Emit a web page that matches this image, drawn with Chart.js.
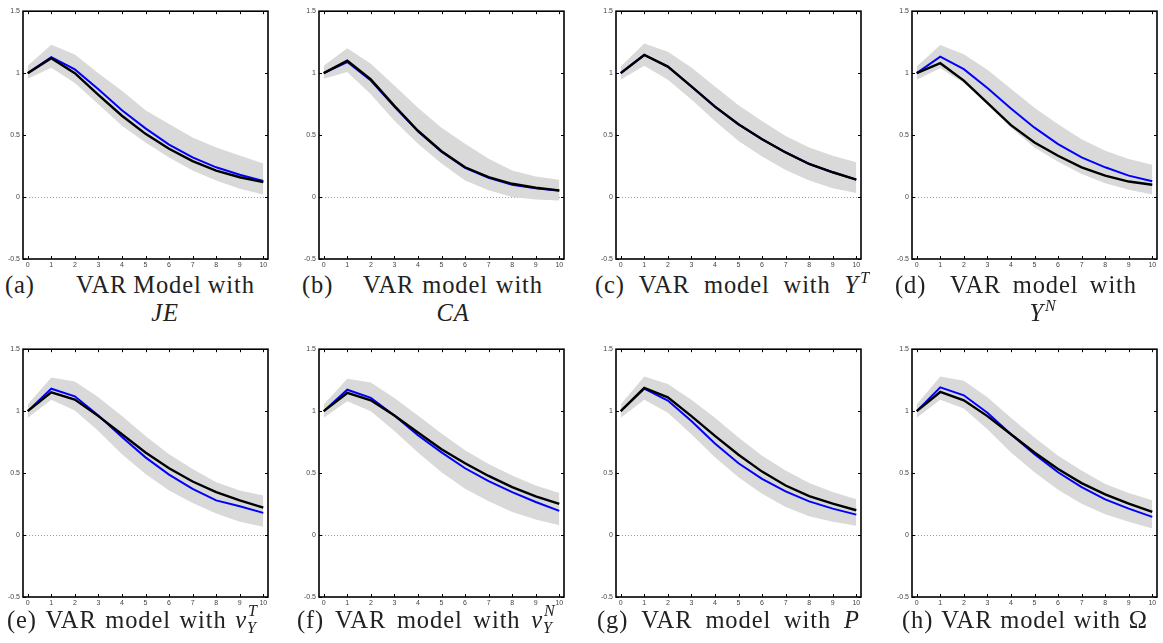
<!DOCTYPE html>
<html><head><meta charset="utf-8">
<script src="https://cdn.jsdelivr.net/npm/chart.js@4"></script>
<style>
body{margin:0;width:1163px;height:643px;background:#fff;position:relative;overflow:hidden;font-family:"Liberation Serif","Times New Roman",serif;}
canvas{position:absolute;}
.cap{position:absolute;font-size:24.5px;letter-spacing:0.9px;color:#222;white-space:nowrap;line-height:25px;height:25px;}
.ln{display:flex;justify-content:space-between;gap:6px;}
.ctr{text-align:center;width:200px;}
i{font-style:italic;}
.sup{position:relative;font-size:16px;font-style:italic;top:-10px;margin-left:1px;}
.ss{display:inline-block;position:relative;width:15px;height:25px;vertical-align:top;font-style:italic;font-size:16px;}
.ss .a{position:absolute;left:1px;top:-4px;line-height:16px;}
.ss .b{position:absolute;left:0px;top:13px;line-height:16px;}
</style></head><body>
<div id="wrap"></div>
<script>
const xs = [0,1,2,3,4,5,6,7,8,9,10];
const xTickLabels = ['0','1','2','3','4','5','6','7','8','9','10'];
const yTickValues = [-0.5,0,0.5,1,1.5];
const yTickLabels = ['-0.5','0','0.5','1','1.5'];

// (a) JE
const blueA  = [1.00,1.13,1.03,0.87,0.70,0.554,0.423,0.32,0.24,0.18,0.13];
const blackA = [1.00,1.12,1.00,0.825,0.656,0.51,0.39,0.29,0.214,0.16,0.12];
const hiA    = [1.06,1.23,1.15,1.00,0.857,0.70,0.59,0.48,0.40,0.335,0.27];
const loA    = [0.955,1.044,0.92,0.75,0.575,0.44,0.32,0.214,0.134,0.067,0.02];
// (b) CA
const blueB  = [1.00,1.09,0.94,0.73,0.53,0.365,0.235,0.155,0.10,0.07,0.05];
const blackB = [1.00,1.10,0.95,0.736,0.535,0.37,0.24,0.16,0.107,0.075,0.054];
const hiB    = [1.06,1.20,1.076,0.90,0.72,0.56,0.43,0.31,0.214,0.166,0.14];
const loB    = [0.955,1.01,0.83,0.616,0.43,0.27,0.134,0.054,0.0,-0.02,-0.027];
// (c) Y^T
const blueC  = [1.00,1.147,1.053,0.893,0.73,0.587,0.467,0.36,0.267,0.20,0.141];
const blackC = [1.00,1.147,1.053,0.893,0.73,0.587,0.467,0.36,0.267,0.20,0.141];
const hiC    = [1.053,1.24,1.173,1.045,0.893,0.74,0.613,0.493,0.40,0.333,0.28];
const loC    = [0.947,1.06,0.947,0.787,0.613,0.453,0.328,0.219,0.133,0.072,0.032];
// (d) Y^N
const blueD  = [1.00,1.133,1.032,0.88,0.715,0.56,0.427,0.32,0.24,0.173,0.128];
const blackD = [1.00,1.08,0.94,0.76,0.58,0.44,0.333,0.24,0.173,0.125,0.099];
const hiD    = [1.053,1.227,1.152,1.027,0.875,0.72,0.587,0.467,0.373,0.307,0.261];
const loD    = [0.947,1.04,0.92,0.747,0.56,0.40,0.285,0.187,0.112,0.059,0.021];
// (e) nu_Y^T
const blueE  = [1.00,1.181,1.12,0.965,0.792,0.627,0.488,0.373,0.28,0.232,0.179];
const blackE = [1.00,1.152,1.093,0.96,0.813,0.667,0.539,0.432,0.347,0.28,0.221];
const hiE    = [1.053,1.272,1.24,1.112,0.96,0.80,0.653,0.533,0.427,0.36,0.32];
const loE    = [0.947,1.093,1.005,0.84,0.653,0.493,0.36,0.259,0.173,0.107,0.067];
// (f) nu_Y^N
const blueF  = [1.00,1.173,1.107,0.965,0.805,0.667,0.539,0.435,0.347,0.267,0.195];
const blackF = [1.00,1.147,1.088,0.965,0.827,0.693,0.579,0.477,0.387,0.312,0.251];
const hiF    = [1.053,1.261,1.232,1.107,0.965,0.819,0.685,0.573,0.48,0.40,0.339];
const loF    = [0.947,1.08,1.00,0.84,0.667,0.507,0.373,0.272,0.187,0.125,0.08];
// (g) P
const blueG  = [1.00,1.181,1.085,0.92,0.739,0.579,0.453,0.352,0.272,0.213,0.165];
const blackG = [1.00,1.187,1.112,0.96,0.80,0.648,0.512,0.40,0.315,0.253,0.20];
const hiG    = [1.053,1.28,1.219,1.093,0.947,0.787,0.64,0.52,0.421,0.347,0.288];
const loG    = [0.947,1.093,0.987,0.813,0.627,0.467,0.333,0.227,0.152,0.107,0.075];
// (h) Omega
const blueH  = [1.00,1.192,1.128,0.987,0.813,0.653,0.507,0.387,0.288,0.213,0.147];
const blackH = [1.00,1.155,1.088,0.96,0.813,0.667,0.533,0.419,0.328,0.253,0.187];
const hiH    = [1.053,1.28,1.245,1.112,0.947,0.787,0.64,0.52,0.413,0.339,0.28];
const loH    = [0.947,1.093,1.021,0.853,0.667,0.507,0.365,0.253,0.168,0.107,0.053];

const panels = [
  {blue:blueA,black:blackA,hi:hiA,lo:loA,fl:23,ft:10},
  {blue:blueB,black:blackB,hi:hiB,lo:loB,fl:319,ft:10},
  {blue:blueC,black:blackC,hi:hiC,lo:loC,fl:616,ft:10},
  {blue:blueD,black:blackD,hi:hiD,lo:loD,fl:912,ft:10},
  {blue:blueE,black:blackE,hi:hiE,lo:loE,fl:23,ft:348},
  {blue:blueF,black:blackF,hi:hiF,lo:loF,fl:319,ft:348},
  {blue:blueG,black:blackG,hi:hiG,lo:loG,fl:616,ft:348},
  {blue:blueH,black:blackH,hi:hiH,lo:loH,fl:912,ft:348}
];

const FW=245, FH=249, PADL=22, PADT=6, PADR=6, PADB=12;

const framePlugin = {
  id:'frame',
  afterDatasetsDraw(chart){
    const {ctx, chartArea:a, scales:{x,y}} = chart;
    ctx.save();
    ctx.strokeStyle='#000';
    ctx.lineWidth=1;
    const L=3;
    ctx.beginPath();
    x.ticks.forEach(t=>{
      const px=Math.round(x.getPixelForValue(t.value))+0.5;
      ctx.moveTo(px,a.bottom); ctx.lineTo(px,a.bottom-L);
      ctx.moveTo(px,a.top); ctx.lineTo(px,a.top+L);
    });
    y.ticks.forEach(t=>{
      const py=Math.round(y.getPixelForValue(t.value))+0.5;
      ctx.moveTo(a.left,py); ctx.lineTo(a.left+L,py);
      ctx.moveTo(a.right,py); ctx.lineTo(a.right-L,py);
    });
    ctx.stroke();
    ctx.lineWidth=1.6;
    ctx.strokeRect(a.left,a.top,a.right-a.left,a.bottom-a.top);
    ctx.restore();
  }
};

const wrap=document.getElementById('wrap');
panels.forEach(p=>{
  const c=document.createElement('canvas');
  const W=PADL+FW+PADR, H=PADT+FH+PADB;
  c.width=W; c.height=H;
  c.style.left=(p.fl-PADL)+'px'; c.style.top=(p.ft-PADT)+'px';
  c.style.width=W+'px'; c.style.height=H+'px';
  wrap.appendChild(c);
  const pts=a=>xs.map((x,i)=>({x:x,y:a[i]}));
  new Chart(c,{
    type:'line',
    data:{datasets:[
      {data:pts(p.hi),order:10,borderWidth:0,pointRadius:0,fill:'+1',backgroundColor:'#d9d9d9',borderColor:'rgba(0,0,0,0)'},
      {data:pts(p.lo),order:10,borderWidth:0,pointRadius:0,fill:false,borderColor:'rgba(0,0,0,0)'},
      {data:pts(p.blue),order:2,borderWidth:2,pointRadius:0,fill:false,borderColor:'#0000ff'},
      {data:pts(p.black),order:1,borderWidth:2.4,pointRadius:0,fill:false,borderColor:'#000000'}
    ]},
    options:{
      responsive:false,animation:false,devicePixelRatio:1,
      layout:{padding:{top:PADT,right:PADR,left:0,bottom:0}},
      plugins:{legend:{display:false},tooltip:{enabled:false}},
      elements:{line:{tension:0}},
      scales:{
        x:{type:'linear',min:-0.2,max:10.2,
          afterBuildTicks:s=>{s.ticks=xs.map(v=>({value:v}));},
          afterFit:s=>{s.height=PADB;},
          grid:{display:false,drawTicks:false},border:{display:false},
          ticks:{autoSkip:false,maxRotation:0,padding:2,font:{family:'Liberation Sans',size:7},color:'#444',
            callback:(v,i)=>xTickLabels[i]}},
        y:{type:'linear',min:-0.5,max:1.5,
          afterBuildTicks:s=>{s.ticks=yTickValues.map(v=>({value:v}));},
          afterFit:s=>{s.width=PADL;},
          grid:{drawTicks:false,lineWidth:1,color:c=>(c.tick&&c.tick.value===0)?'#9a9a9a':'rgba(0,0,0,0)'},
          border:{display:false,dash:[1,2]},
          ticks:{autoSkip:false,padding:3,font:{family:'Liberation Sans',size:7},color:'#444',
            callback:(v,i)=>yTickLabels[i]}}
      }
    },
    plugins:[framePlugin]
  });
});
</script>
<div class="cap" style="left:5px;top:272px;">(a)</div>
<div class="cap ln" style="left:76px;width:177px;top:272px;"><span>VAR</span><span>Model</span><span>with</span></div>
<div class="cap ctr" style="left:65px;top:300px;"><i>JE</i></div>

<div class="cap" style="left:302px;top:272px;">(b)</div>
<div class="cap ln" style="left:363px;width:180px;top:272px;"><span>VAR</span><span>model</span><span>with</span></div>
<div class="cap ctr" style="left:353px;top:300px;"><i>CA</i></div>

<div class="cap ln" style="left:595px;width:275px;top:272px;"><span>(c)</span><span>VAR</span><span>model</span><span>with</span><span><i>Y</i><span class="sup">T</span></span></div>

<div class="cap" style="left:895px;top:272px;">(d)</div>
<div class="cap ln" style="left:950px;width:187px;top:272px;"><span>VAR</span><span>model</span><span>with</span></div>
<div class="cap ctr" style="left:943px;top:300px;"><i>Y</i><span class="sup">N</span></div>

<div class="cap ln" style="left:7px;width:255px;top:607px;"><span>(e)</span><span>VAR</span><span>model</span><span>with</span><span><i>ν</i><span class="ss"><span class="a">T</span><span class="b">Y</span></span></span></div>
<div class="cap ln" style="left:297px;width:261px;top:607px;"><span>(f)</span><span>VAR</span><span>model</span><span>with</span><span><i>ν</i><span class="ss"><span class="a">N</span><span class="b">Y</span></span></span></div>
<div class="cap ln" style="left:597px;width:263px;top:607px;"><span>(g)</span><span>VAR</span><span>model</span><span>with</span><span><i>P</i></span></div>
<div class="cap ln" style="left:902px;width:246px;top:607px;"><span>(h)</span><span>VAR</span><span>model</span><span>with</span><span>Ω</span></div>
</body></html>
